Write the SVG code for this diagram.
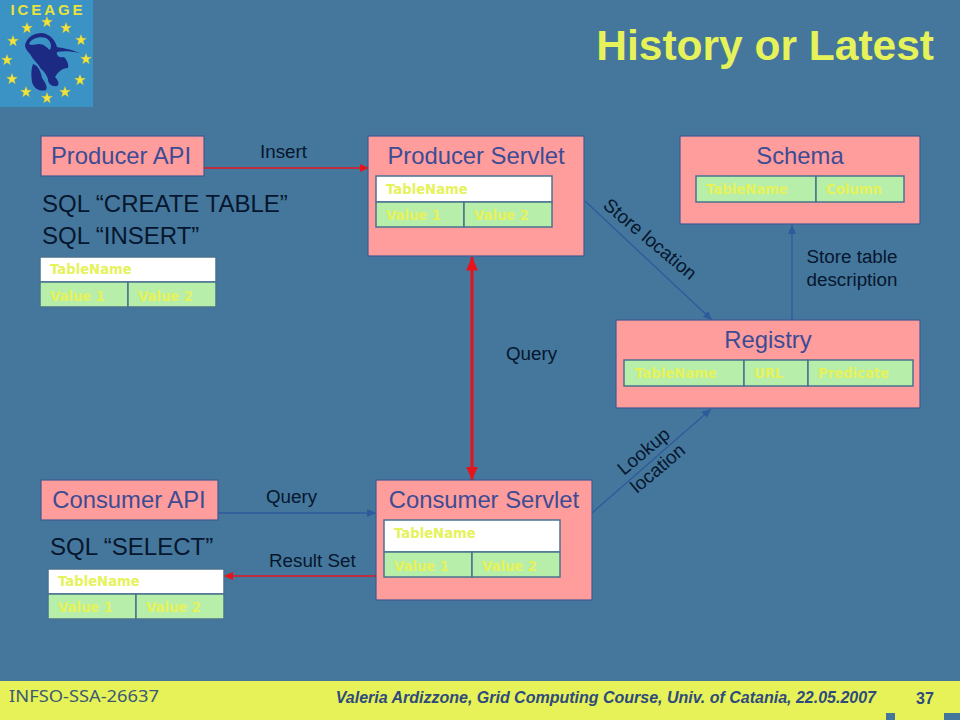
<svg xmlns="http://www.w3.org/2000/svg" width="960" height="720" viewBox="0 0 960 720">
<style>
.box{fill:#ff9c9c;stroke:#3f5a94;stroke-width:1.2}
.ttl{font:23.8px "Liberation Sans",Arial,sans-serif;fill:#3c4c94;text-anchor:middle}
.lbl{font:18.8px "Liberation Sans",Arial,sans-serif;fill:#06162e}
.sql{font:24px "Liberation Sans",Arial,sans-serif;fill:#06162e}
.cell{fill:#b7eeaa;stroke:#4a7390;stroke-width:1.5}
.head{fill:#fff;stroke:#4a7390;stroke-width:1.5}
.ct{font:bold 13.2px "DejaVu Sans",Verdana,sans-serif;fill:#e6f25a}
.blue{stroke:#2f5a9c;stroke-width:1.3;fill:none}
.red{stroke:#e8141c;stroke-width:1.3;fill:none}
.star{fill:#f2e23c;stroke:#d8c830;stroke-width:.3}
</style>
<defs>
<marker id="ab" markerWidth="10" markerHeight="8" refX="9" refY="4" orient="auto" markerUnits="userSpaceOnUse"><path d="M0 0L9 4L0 8z" fill="#2f5a9c"/></marker>
<marker id="ar" markerWidth="10" markerHeight="8" refX="9" refY="4" orient="auto" markerUnits="userSpaceOnUse"><path d="M0 0L9 4L0 8z" fill="#e8141c"/></marker>
<marker id="arb" markerWidth="5" markerHeight="4" refX="4.5" refY="2" orient="auto-start-reverse"><path d="M0 0L4.5 2L0 4z" fill="#e8141c"/></marker>
<polygon id="s" class="star" points="0,-5.500 1.400,-1.700 5.400,-1.700 2.200,0.800 3.300,4.800 0,2.400 -3.300,4.800 -2.200,0.800 -5.400,-1.700 -1.400,-1.700"/>
</defs>
<rect width="960" height="720" fill="#44779b"/>
<g id="logo">
<rect width="93" height="107" fill="#3a93c4"/>
<text x="46.500" y="15" font-family="'Liberation Sans',sans-serif" font-size="15" font-weight="bold" fill="#e8e23c" text-anchor="middle" textLength="72" lengthAdjust="spacing">ICEAGE</text>
<use href="#s" x="47" y="22"/><use href="#s" x="27" y="28"/><use href="#s" x="66" y="28"/><use href="#s" x="13" y="41"/><use href="#s" x="81" y="40"/><use href="#s" x="7" y="60"/><use href="#s" x="86" y="59"/><use href="#s" x="12" y="79"/><use href="#s" x="80" y="80"/><use href="#s" x="26" y="92"/><use href="#s" x="65" y="92"/><use href="#s" x="47" y="98"/>
<path d="M25 45C27 37 34 33 42 33C50 34 55 40 57 47C62 48 70 49 80 53C70 51 63 51 57 52C56 56 60 58 64 57C67 60 69 64 68 68C62 68 58 72 55 77C58 80 60 84 57 86C52 87 48 84 48 79C46 74 44 71 41 69C38 63 33 60 30 54C27 51 25 48 25 45Z" fill="#1c2a84"/>
<path d="M33 64C38 65 41 72 42 78C45 82 48 87 46 90C40 92 34 89 32 82C31 75 31 69 33 64Z" fill="#1c2a84"/>
<path d="M29 44C31 38 40 36 46 38C51 41 52 46 50 50C46 47 44 44 39 44C35 44 32 46 29 44Z" fill="#3a93c4"/>
</g>
<g id="title"><text x="934" y="60" font-family="'Liberation Sans',Arial,sans-serif" font-size="42.500" font-weight="bold" fill="#e6f25a" text-anchor="end">History or Latest</text></g>
<g id="connectors">
<line class="red" x1="204" y1="168" x2="369" y2="168" marker-end="url(#ar)"/>
<line x1="472" y1="257" x2="472" y2="480" stroke="#e8141c" stroke-width="3" marker-start="url(#arb)" marker-end="url(#arb)"/>
<line class="blue" x1="585" y1="201" x2="712" y2="320" marker-end="url(#ab)"/>
<line class="blue" x1="792" y1="320" x2="792" y2="225" marker-end="url(#ab)"/>
<line class="blue" x1="592" y1="513" x2="711" y2="409" marker-end="url(#ab)"/>
<line class="blue" x1="218" y1="513" x2="376" y2="513" marker-end="url(#ab)"/>
<line class="red" x1="376" y1="576" x2="224" y2="576" marker-end="url(#ar)"/>
<text class="lbl" x="260" y="158">Insert</text>
<text class="lbl" x="506" y="360">Query</text>
<text class="lbl" x="266" y="503">Query</text>
<text class="lbl" x="269" y="567">Result Set</text>
<text class="lbl" x="852" y="263" text-anchor="middle">Store table</text>
<text class="lbl" x="852" y="286" text-anchor="middle">description</text>
<text class="lbl" transform="translate(602,207) rotate(40)">Store location</text>
<text class="lbl" transform="translate(624,476) rotate(-40)">Lookup</text>
<text class="lbl" transform="translate(637,494) rotate(-40)">location</text>
</g>
<g id="producer-api"><rect class="box" x="41" y="136" width="163" height="40"/><text class="ttl" x="121" y="164">Producer API</text></g>
<g id="producer-sql">
<text class="sql" x="42" y="212">SQL “CREATE TABLE”</text>
<text class="sql" x="42" y="244">SQL “INSERT”</text>
<rect class="head" x="40" y="257" width="176" height="25"/><rect class="cell" x="40" y="282" width="88" height="25"/><rect class="cell" x="128" y="282" width="88" height="25"/>
<text class="ct" x="50" y="274">TableName</text><text class="ct" x="50" y="301">Value 1</text><text class="ct" x="138" y="301">Value 2</text>
</g>
<g id="producer-servlet"><rect class="box" x="368" y="136" width="216" height="120"/><text class="ttl" x="476" y="164">Producer Servlet</text>
<rect class="head" x="376" y="176" width="176" height="26"/><rect class="cell" x="376" y="202" width="88" height="25"/><rect class="cell" x="464" y="202" width="88" height="25"/>
<text class="ct" x="386" y="194">TableName</text><text class="ct" x="386" y="220">Value 1</text><text class="ct" x="474" y="220">Value 2</text></g>
<g id="schema"><rect class="box" x="680" y="136" width="240" height="88"/><text class="ttl" x="800" y="164">Schema</text>
<rect class="cell" x="696" y="176" width="120" height="26"/><rect class="cell" x="816" y="176" width="88" height="26"/>
<text class="ct" x="706" y="194">TableName</text><text class="ct" x="826" y="194">Column</text></g>
<g id="registry"><rect class="box" x="616" y="320" width="304" height="88"/><text class="ttl" x="768" y="348">Registry</text>
<rect class="cell" x="624" y="360" width="120" height="26"/><rect class="cell" x="744" y="360" width="64" height="26"/><rect class="cell" x="808" y="360" width="105" height="26"/>
<text class="ct" x="635" y="378">TableName</text><text class="ct" x="754" y="378">URL</text><text class="ct" x="818" y="378">Predicate</text></g>
<g id="consumer-api"><rect class="box" x="41" y="480" width="177" height="40"/><text class="ttl" x="129" y="508">Consumer API</text></g>
<g id="consumer-sql">
<text class="sql" x="50" y="555">SQL “SELECT”</text>
<rect class="head" x="48" y="569" width="176" height="25"/><rect class="cell" x="48" y="594" width="88" height="25"/><rect class="cell" x="136" y="594" width="88" height="25"/>
<text class="ct" x="58" y="586">TableName</text><text class="ct" x="58" y="612">Value 1</text><text class="ct" x="146" y="612">Value 2</text>
</g>
<g id="consumer-servlet"><rect class="box" x="376" y="480" width="216" height="120"/><text class="ttl" x="484" y="508">Consumer Servlet</text>
<rect class="head" x="384" y="520" width="176" height="32"/><rect class="cell" x="384" y="552" width="88" height="25"/><rect class="cell" x="472" y="552" width="88" height="25"/>
<text class="ct" x="394" y="538">TableName</text><text class="ct" x="394" y="571">Value 1</text><text class="ct" x="482" y="571">Value 2</text></g>
<g id="footer">
<rect y="681" width="960" height="39" fill="#e6f257"/>
<rect x="886" y="713" width="9" height="7" fill="#44779b"/><rect x="944" y="713" width="16" height="7" fill="#44779b"/>
<text x="9" y="702" font-family="'Noto Sans',sans-serif" font-size="16.500" fill="#3c5a74" textLength="150" lengthAdjust="spacingAndGlyphs">INFSO-SSA-26637</text>
<text x="876" y="703" font-family="'Liberation Sans',Arial,sans-serif" font-size="16" font-weight="bold" font-style="italic" fill="#2f4a7c" text-anchor="end">Valeria Ardizzone, Grid Computing Course, Univ. of Catania, 22.05.2007</text>
<text x="925" y="704" font-family="'Liberation Sans',Arial,sans-serif" font-size="16" font-weight="bold" fill="#2f4a7c" text-anchor="middle">37</text>
</g>
</svg>
